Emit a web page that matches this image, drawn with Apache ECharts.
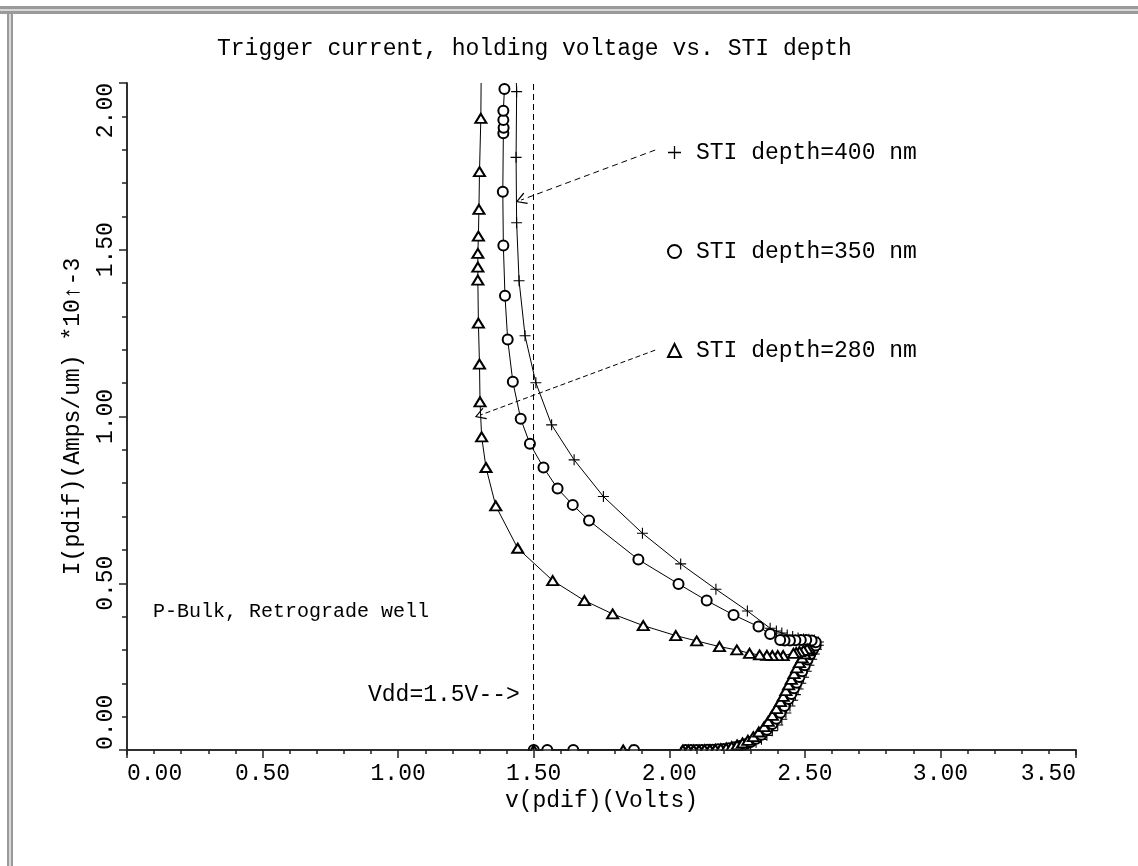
<!DOCTYPE html>
<html>
<head>
<meta charset="utf-8">
<script src="https://cdn.jsdelivr.net/npm/echarts@6/dist/echarts.min.js"></script>
<style>
  html, body { margin: 0; padding: 0; background: #fff; }
  #chart { width: 1138px; height: 866px; }
</style>
</head>
<body>
<div id="chart"></div>
<script>
// tick labels
const xTickLabels = ['0.00', '0.50', '1.00', '1.50', '2.00', '2.50', '3.00', '3.50'];
const yTickLabels = ['0.00', '0.50', '1.00', '1.50', '2.00'];

// [V (Volts), I (Amps/um *1e-3)] : lower branch up to snapback, then holding branch
const sti400 = [
  [1.50, 0], [1.55, 0], [1.86, 0], [2.08, 0], [2.10, 0], [2.12, 0], [2.14, 0], [2.16, 0.001],
  [2.18, 0.001], [2.20, 0.002], [2.22, 0.004], [2.24, 0.006], [2.26, 0.008], [2.28, 0.011],
  [2.30, 0.016], [2.32, 0.023], [2.34, 0.032], [2.36, 0.044], [2.38, 0.058], [2.40, 0.075],
  [2.415, 0.092], [2.43, 0.111], [2.445, 0.132], [2.455, 0.149], [2.465, 0.166], [2.475, 0.183],
  [2.485, 0.200], [2.495, 0.218], [2.505, 0.236], [2.515, 0.254], [2.525, 0.272], [2.535, 0.288],
  [2.543, 0.302], [2.55, 0.314], [2.55, 0.324], [2.535, 0.33], [2.515, 0.332], [2.495, 0.333],
  [2.475, 0.336], [2.455, 0.34], [2.435, 0.345], [2.415, 0.351], [2.395, 0.357],
  [2.372, 0.365], [2.288, 0.417], [2.172, 0.482], [2.042, 0.558], [1.901, 0.650], [1.757, 0.760],
  [1.649, 0.870], [1.566, 0.975], [1.508, 1.101], [1.468, 1.242], [1.446, 1.407], [1.437, 1.581],
  [1.435, 1.777], [1.437, 1.974], [1.436, 2.0]
];
const sti350 = [
  [1.50, 0], [1.55, 0], [1.646, 0], [1.87, 0], [2.06, 0], [2.08, 0], [2.10, 0], [2.12, 0],
  [2.14, 0.001], [2.16, 0.001], [2.18, 0.002], [2.20, 0.003], [2.22, 0.005], [2.24, 0.008],
  [2.26, 0.012], [2.28, 0.017], [2.30, 0.024], [2.32, 0.034], [2.34, 0.046], [2.36, 0.061],
  [2.38, 0.078], [2.395, 0.094], [2.41, 0.112], [2.425, 0.132], [2.44, 0.153], [2.45, 0.168],
  [2.46, 0.185], [2.47, 0.202], [2.48, 0.219], [2.49, 0.236], [2.50, 0.254], [2.51, 0.271],
  [2.52, 0.287], [2.53, 0.301], [2.54, 0.313], [2.54, 0.323], [2.525, 0.328], [2.505, 0.33],
  [2.485, 0.33], [2.465, 0.329], [2.445, 0.328], [2.425, 0.328],
  [2.409, 0.330], [2.372, 0.348], [2.329, 0.370], [2.237, 0.405], [2.138, 0.448], [2.034, 0.498],
  [1.886, 0.571], [1.704, 0.688], [1.644, 0.735], [1.588, 0.784], [1.536, 0.847], [1.486, 0.918],
  [1.452, 0.993], [1.423, 1.104], [1.404, 1.231], [1.394, 1.362], [1.388, 1.513], [1.386, 1.674],
  [1.388, 1.849], [1.389, 1.866], [1.388, 1.889], [1.388, 1.917], [1.392, 1.982], [1.392, 2.0]
];
const sti280 = [
  [1.50, 0], [1.83, 0], [2.05, 0], [2.07, 0], [2.09, 0], [2.11, 0], [2.13, 0.001], [2.15, 0.001],
  [2.17, 0.002], [2.19, 0.004], [2.21, 0.006], [2.23, 0.010], [2.25, 0.015], [2.27, 0.021],
  [2.29, 0.029], [2.31, 0.040], [2.33, 0.054], [2.35, 0.070], [2.365, 0.086], [2.38, 0.104],
  [2.395, 0.124], [2.41, 0.145], [2.42, 0.161], [2.43, 0.178], [2.44, 0.195], [2.45, 0.212],
  [2.46, 0.229], [2.47, 0.246], [2.48, 0.262], [2.49, 0.276], [2.50, 0.288], [2.51, 0.297],
  [2.517, 0.303], [2.508, 0.303], [2.495, 0.299], [2.48, 0.295], [2.468, 0.292],
  [2.458, 0.290], [2.42, 0.283], [2.40, 0.283], [2.38, 0.283], [2.36, 0.284], [2.333, 0.285],
  [2.296, 0.290], [2.249, 0.300], [2.185, 0.310], [2.101, 0.327], [2.024, 0.343], [1.904, 0.373],
  [1.791, 0.408], [1.687, 0.448], [1.570, 0.508], [1.441, 0.605], [1.360, 0.732], [1.324, 0.847],
  [1.308, 0.939], [1.302, 1.044], [1.300, 1.157], [1.296, 1.280], [1.294, 1.409], [1.294, 1.448],
  [1.294, 1.489], [1.296, 1.541], [1.298, 1.621], [1.300, 1.734], [1.305, 1.894], [1.306, 2.0]
];

// annotations (data coords)
const vdd = 1.5;
const arrow400 = [[1.948, 1.799], [1.453, 1.649]];
const arrow280 = [[1.948, 1.199], [1.302, 1.004]];

const FONT = 'Liberation Mono';
const plusPath = 'path://M5.4,0 H6.6 V5.4 H12 V6.6 H6.6 V12 H5.4 V6.6 H0 V5.4 H5.4 Z';
const chevron = 'path://M5,0 L10,9 L9.2,9.8 L5,2 L0.8,9.8 L0,9 Z';

// last point just marks where the curve leaves the frame
function pts(arr) {
  return arr.map((p, i) => i === arr.length - 1 ? { value: p, symbol: 'none' } : p);
}

const chart = echarts.init(document.getElementById('chart'));

const axisLine = { show: true, lineStyle: { color: '#222', width: 1.5 } };
const tickStyle = { color: '#222', width: 1.5 };

chart.setOption({
  animation: false,
  backgroundColor: '#fff',
  title: {
    text: 'Trigger current, holding voltage vs. STI depth',
    left: 212, top: 32,
    textStyle: { fontFamily: FONT, fontSize: 23, fontWeight: 'normal', color: '#000' }
  },
  grid: { left: 127, right: 62, top: 83, bottom: 116 },
  legend: {
    orient: 'vertical',
    left: 662, top: 136,
    itemGap: 76,
    itemWidth: 13, itemHeight: 13,
    textStyle: { fontFamily: FONT, fontSize: 23, color: '#000', padding: [0, 0, 0, 10] },
    data: [
      { name: 'STI depth=400 nm', icon: plusPath },
      { name: 'STI depth=350 nm', icon: 'emptyCircle' },
      { name: 'STI depth=280 nm', icon: 'emptyTriangle' }
    ]
  },
  xAxis: [{
    type: 'value', min: 0, max: 3.5, interval: 0.5, z: 10,
    name: 'v(pdif)(Volts)', nameLocation: 'middle', nameGap: 39,
    nameTextStyle: { fontFamily: FONT, fontSize: 23, color: '#000' },
    axisLine: axisLine,
    axisTick: { show: true, length: 8, lineStyle: tickStyle },
    minorTick: { show: true, splitNumber: 5, length: 4, lineStyle: tickStyle },
    splitLine: { show: false },
    axisLabel: {
      margin: 12, fontFamily: FONT, fontSize: 23, color: '#000',
      alignMinLabel: 'left', alignMaxLabel: 'right',
      formatter: v => xTickLabels[Math.round(v / 0.5)]
    }
  }, {
    type: 'value', position: 'top', min: 0, max: 3.5, interval: 0.5,
    axisLine: axisLine,
    axisTick: { show: true, inside: true, length: 5, lineStyle: tickStyle },
    minorTick: { show: true, splitNumber: 5, length: 5, lineStyle: tickStyle },
    splitLine: { show: false },
    axisLabel: { show: false }
  }],
  yAxis: [{
    type: 'value', min: 0, max: 2, interval: 0.5,
    name: 'I(pdif)(Amps/um) *10\u2191-3', nameLocation: 'middle', nameGap: 43,
    nameTextStyle: { fontFamily: FONT, fontSize: 23, color: '#000' },
    axisLine: axisLine,
    axisTick: { show: true, length: 8, lineStyle: tickStyle },
    minorTick: { show: true, splitNumber: 5, length: 5, lineStyle: tickStyle },
    splitLine: { show: false },
    axisLabel: {
      rotate: 90, margin: 10, fontFamily: FONT, fontSize: 23, color: '#000',
      alignMinLabel: 'left', alignMaxLabel: 'right',
      formatter: v => yTickLabels[Math.round(v / 0.5)]
    }
  }, {
    type: 'value', position: 'right', min: 0, max: 2, interval: 0.5,
    axisLine: axisLine,
    axisTick: { show: true, inside: true, length: 8, lineStyle: tickStyle },
    minorTick: { show: true, splitNumber: 5, length: 5, lineStyle: tickStyle },
    splitLine: { show: false },
    axisLabel: { show: false }
  }],
  series: [{
    name: 'STI depth=400 nm', type: 'line', data: pts(sti400),
    symbol: plusPath, symbolSize: 11, showAllSymbol: true,
    lineStyle: { color: '#000', width: 1 },
    itemStyle: { color: '#000' },
    markLine: {
      silent: true, animation: false,
      label: { show: false },
      data: [
        [{ xAxis: vdd, yAxis: 0, symbol: 'none' }, { xAxis: vdd, yAxis: 2, symbol: 'none' }],
        [{ coord: arrow400[0], symbol: 'none' }, { coord: arrow400[1], symbol: chevron, symbolSize: [12, 11] }]
      ],
      lineStyle: { color: '#000', width: 1, type: [6, 4] }
    }
  }, {
    name: 'STI depth=350 nm', type: 'line', data: pts(sti350),
    symbol: 'emptyCircle', symbolSize: 10, showAllSymbol: true,
    lineStyle: { color: '#000', width: 1 },
    itemStyle: { color: '#000', borderColor: '#000', borderWidth: 1 }
  }, {
    name: 'STI depth=280 nm', type: 'line', data: pts(sti280),
    symbol: 'emptyTriangle', symbolSize: [11, 9], showAllSymbol: true,
    lineStyle: { color: '#000', width: 1 },
    itemStyle: { color: '#000', borderColor: '#000', borderWidth: 1 },
    markLine: {
      silent: true, animation: false,
      label: { show: false },
      data: [
        [{ coord: arrow280[0], symbol: 'none' }, { coord: arrow280[1], symbol: chevron, symbolSize: [12, 11] }]
      ],
      lineStyle: { color: '#000', width: 1, type: [5, 3] }
    }
  }],
  graphic: [
    { type: 'rect', shape: { x: 0, y: 6, width: 1138, height: 8 }, style: { fill: '#9a9a9a' } },
    { type: 'rect', shape: { x: 0, y: 9, width: 1138, height: 2 }, style: { fill: '#d8d8d8' } },
    { type: 'rect', shape: { x: 7, y: 14, width: 6, height: 852 }, style: { fill: '#9a9a9a' } },
    { type: 'rect', shape: { x: 9, y: 14, width: 2, height: 852 }, style: { fill: '#d8d8d8' } },
    // markers sitting on the frame are cut by it, as in the plotter output
    { type: 'rect', z: 5, shape: { x: 128, y: 751, width: 947, height: 8 }, style: { fill: '#fff' } },
    { type: 'text', left: 153, top: 602,
      style: { text: 'P-Bulk, Retrograde well', font: '20px "Liberation Mono"', fill: '#000' } },
    { type: 'text', left: 368, top: 683,
      style: { text: 'Vdd=1.5V-->', font: '23px "Liberation Mono"', fill: '#000' } }
  ]
});
</script>
</body>
</html>
